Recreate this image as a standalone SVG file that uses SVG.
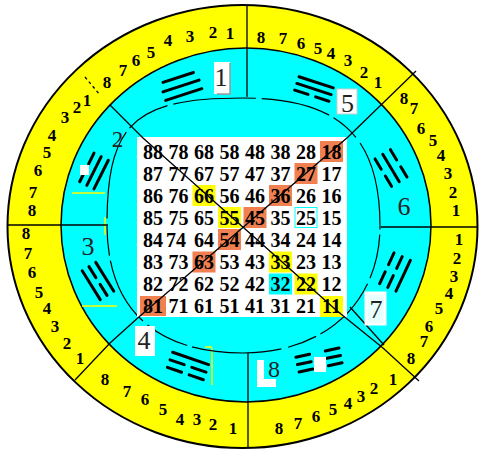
<svg xmlns="http://www.w3.org/2000/svg" width="482" height="452" viewBox="0 0 482 452">
<style>
.ring{font-family:"Liberation Serif",serif;font-weight:bold;font-size:17px;text-anchor:middle;fill:#000}
.num{font-family:"Liberation Serif",serif;font-weight:bold;font-size:20px;text-anchor:middle;fill:#000}
.lab{font-family:"Liberation Serif",serif;font-size:26px;text-anchor:middle;fill:#222}
.yao{stroke:#000;stroke-width:3;stroke-linecap:round;fill:none}
.ln{stroke:#000;stroke-width:1.3;fill:none}
.org{fill:#F08050}
.yel{fill:#FFFF00}
.art{stroke:#FFFF00;stroke-width:1.5;fill:none}
</style>
<rect width="482" height="452" fill="#fff"/>
<g id="rings">
<ellipse cx="242.5" cy="226.5" rx="235" ry="221.5" fill="#FFFF00" stroke="#000" stroke-width="2"/>
<ellipse cx="246" cy="225" rx="185" ry="177" fill="#00FFFF" stroke="#000" stroke-width="1.5"/>
<path class="art" d="M72,193H105M105,217V235M82,306H117M212,348V385M205,347H212"/>
<path d="M243,98C134,98 107,123 107,225C107,308 155,353 243,353C325,353 380,302 380,226C380,136 339,98 243,98Z" fill="none" stroke="#000" stroke-width="1.2" stroke-dasharray="70 6 45 5 90 7 30 5"/>
</g>
<g id="grid">
<rect x="137" y="137" width="210" height="180" fill="#fff"/>
<rect class="org" x="320" y="141" width="23" height="21"/>
<rect class="org" x="294.5" y="163" width="23" height="21"/>
<rect class="org" x="269" y="185" width="23" height="21"/>
<rect class="org" x="243.5" y="207" width="23" height="21"/>
<rect class="org" x="218" y="229" width="23" height="21"/>
<rect class="org" x="192.5" y="251.5" width="23" height="21"/>
<rect class="org" x="140" y="296" width="26" height="20"/>
<rect class="yel" x="192.5" y="185" width="23" height="21"/>
<rect class="yel" x="218" y="207" width="23" height="21"/>
<rect class="yel" x="269" y="251.5" width="23" height="21"/>
<rect class="yel" x="294.5" y="273.5" width="23" height="21"/>
<rect class="yel" x="320" y="296" width="23" height="21"/>
<rect x="269" y="273.5" width="23" height="21" fill="#00FFFF"/>
<rect x="295" y="207.5" width="22" height="20" fill="none" stroke="#00FFFF" stroke-width="1"/>
<text class="num" y="159"><tspan x="153">88</tspan><tspan x="178.5">78</tspan><tspan x="204">68</tspan><tspan x="229.5">58</tspan><tspan x="255">48</tspan><tspan x="280.5">38</tspan><tspan x="306">28</tspan><tspan x="331.5">18</tspan></text>
<text class="num" y="181"><tspan x="153">87</tspan><tspan x="178.5">77</tspan><tspan x="204">67</tspan><tspan x="229.5">57</tspan><tspan x="255">47</tspan><tspan x="280.5">37</tspan><tspan x="306">27</tspan><tspan x="331.5">17</tspan></text>
<text class="num" y="203"><tspan x="153">86</tspan><tspan x="178.5">76</tspan><tspan x="204">66</tspan><tspan x="229.5">56</tspan><tspan x="255">46</tspan><tspan x="280.5">36</tspan><tspan x="306">26</tspan><tspan x="331.5">16</tspan></text>
<text class="num" y="225"><tspan x="153">85</tspan><tspan x="178.5">75</tspan><tspan x="204">65</tspan><tspan x="229.5">55</tspan><tspan x="255">45</tspan><tspan x="280.5">35</tspan><tspan x="306">25</tspan><tspan x="331.5">15</tspan></text>
<text class="num" y="247"><tspan x="153">84</tspan><tspan x="176">74</tspan><tspan x="204">64</tspan><tspan x="229.5">54</tspan><tspan x="255">44</tspan><tspan x="280.5">34</tspan><tspan x="306">24</tspan><tspan x="331.5">14</tspan></text>
<text class="num" y="269"><tspan x="153">83</tspan><tspan x="178.5">73</tspan><tspan x="204">63</tspan><tspan x="229.5">53</tspan><tspan x="255">43</tspan><tspan x="280.5">33</tspan><tspan x="306">23</tspan><tspan x="331.5">13</tspan></text>
<text class="num" y="291"><tspan x="153">82</tspan><tspan x="178.5">72</tspan><tspan x="204">62</tspan><tspan x="229.5">52</tspan><tspan x="255">42</tspan><tspan x="280.5">32</tspan><tspan x="306">22</tspan><tspan x="331.5">12</tspan></text>
<text class="num" y="313"><tspan x="153">81</tspan><tspan x="178.5">71</tspan><tspan x="204">61</tspan><tspan x="229.5">51</tspan><tspan x="255">41</tspan><tspan x="280.5">31</tspan><tspan x="306">21</tspan><tspan x="331.5">11</tspan></text>
</g>
<g id="connectors">
<path class="ln" d="M247,5V97"/>
<path class="ln" d="M248,353V448"/>
<path class="ln" d="M7,225H108" stroke-width="2"/>
<path class="ln" d="M381,227H478"/>
<path class="ln" d="M110,105L143,138L336,310L383,348L419,381"/>
<path class="ln" d="M350,307L384,345" stroke-width="1"/>
<path class="ln" d="M85,77L100,95" stroke-dasharray="3 3"/>
<path class="ln" d="M416,71L348,137L140,316L110,343L75,380"/>
</g>
<g id="sector-1">
<rect x="214" y="62" width="16" height="32" fill="#fff"/>
<path d="M230,63V94H217" fill="none" stroke="#999" stroke-width="1.5"/>
<text class="lab" x="221" y="86">1</text>
<g transform="translate(181,86) rotate(-18)"><path class="yao" d="M-16,-9H16M-19,0H19M-19,9H19"/></g>
<text class="ring" x="107" y="88">8</text><text class="ring" x="123" y="76">7</text><text class="ring" x="136" y="66">6</text><text class="ring" x="151" y="58">5</text><text class="ring" x="168" y="46">4</text><text class="ring" x="190" y="42">3</text><text class="ring" x="213" y="38">2</text><text class="ring" x="230" y="39">1</text>
</g>
<g id="sector-2">
<text class="lab" x="117.5" y="147" fill="#333" style="font-size:23px">2</text>
<g transform="translate(94,171) rotate(116.6)"><path class="yao" d="M-16,-8H16M-16,0H16M-16,8H-4M4,8H16"/></g>
<rect x="80" y="165" width="9" height="10" fill="#fff"/>
<text class="ring" x="87" y="106">1</text><text class="ring" x="77" y="113">2</text><text class="ring" x="65" y="123">3</text><text class="ring" x="52" y="141">4</text><text class="ring" x="47" y="158">5</text><text class="ring" x="38" y="176">6</text><text class="ring" x="33" y="198">7</text><text class="ring" x="32" y="216">8</text>
</g>
<g id="sector-3">
<text class="lab" x="88" y="255" fill="#555">3</text>
<g transform="translate(98,281) rotate(58)"><path class="yao" d="M-17,-8H17M-17,0H-4M4,0H17M-17,8H17"/></g>
<text class="ring" x="26" y="239">8</text><text class="ring" x="28" y="259">7</text><text class="ring" x="32" y="278">6</text><text class="ring" x="39" y="298">5</text><text class="ring" x="47" y="314">4</text><text class="ring" x="55" y="332">3</text><text class="ring" x="67" y="349">2</text><text class="ring" x="80" y="364">1</text>
</g>
<g id="sector-4">
<rect x="135" y="326" width="20" height="30" fill="#fff"/>
<text class="lab" x="144" y="349">4</text>
<g transform="translate(188,366) rotate(19)"><path class="yao" d="M-19,-8H19M-19,0H-4M4,0H19M-19,8H-4M4,8H19"/></g>
<text class="ring" x="105" y="385">8</text><text class="ring" x="127" y="397">7</text><text class="ring" x="145" y="405">6</text><text class="ring" x="163" y="415">5</text><text class="ring" x="180" y="425">4</text><text class="ring" x="197" y="425">3</text><text class="ring" x="213" y="430">2</text><text class="ring" x="233" y="434">1</text>
</g>
<g id="sector-5">
<rect x="337" y="89" width="20" height="25" fill="#fff" stroke="#ccc" stroke-width="1"/>
<text class="lab" x="347.5" y="112">5</text>
<g transform="translate(314,89) rotate(18)"><path class="yao" d="M-18,-7H18M-18,0H18M-18,7H-4M4,7H18"/></g>
<text class="ring" x="261" y="43">8</text><text class="ring" x="283" y="44">7</text><text class="ring" x="301" y="49">6</text><text class="ring" x="318" y="54">5</text><text class="ring" x="331" y="59">4</text><text class="ring" x="348" y="66">3</text><text class="ring" x="364" y="78">2</text><text class="ring" x="378" y="88">1</text>
</g>
<g id="sector-6">
<text class="lab" x="404" y="215">6</text>
<g transform="translate(391,168) rotate(59)"><path class="yao" d="M-16,-9H-4M4,-9H16M-16,0H16M-16,9H-4M4,9H16"/></g>
<text class="ring" x="404" y="104">8</text><text class="ring" x="414" y="114">7</text><text class="ring" x="421" y="134">6</text><text class="ring" x="433" y="146">5</text><text class="ring" x="441" y="161">4</text><text class="ring" x="448" y="179">3</text><text class="ring" x="453" y="198">2</text><text class="ring" x="456" y="216">1</text>
</g>
<g id="sector-7">
<rect x="366" y="293" width="19" height="31" fill="#E8FFFF" stroke="#fff" stroke-width="3"/>
<text class="lab" x="376" y="318" fill="#888">7</text>
<g transform="translate(395,272) rotate(115)"><path class="yao" d="M-17,-9H17M-17,0H-4M4,0H17M-17,9H-4M4,9H17"/></g>
<text class="ring" x="411" y="364">8</text><text class="ring" x="424" y="347">7</text><text class="ring" x="429" y="332">6</text><text class="ring" x="439" y="314">5</text><text class="ring" x="449" y="299">4</text><text class="ring" x="454" y="282">3</text><text class="ring" x="457" y="264">2</text><text class="ring" x="459" y="245">1</text>
</g>
<g id="sector-8">
<path d="M257,360H264V379H276V387H257Z" fill="#fff"/>
<text class="lab" x="274" y="377" style="font-size:24px">8</text>
<g transform="translate(319,360) rotate(-12)"><path class="yao" d="M-22,-7.5H-8M8,-7.5H22M-22,0H-8M8,0H22M-22,7.5H-8M8,7.5H22"/></g>
<rect x="314" y="357" width="12" height="15" fill="#fff"/>
<text class="ring" x="279" y="434">8</text><text class="ring" x="298" y="429">7</text><text class="ring" x="316" y="422">6</text><text class="ring" x="333" y="415">5</text><text class="ring" x="348" y="409">4</text><text class="ring" x="361" y="402">3</text><text class="ring" x="374" y="394">2</text><text class="ring" x="393" y="385">1</text>
</g>
</svg>
